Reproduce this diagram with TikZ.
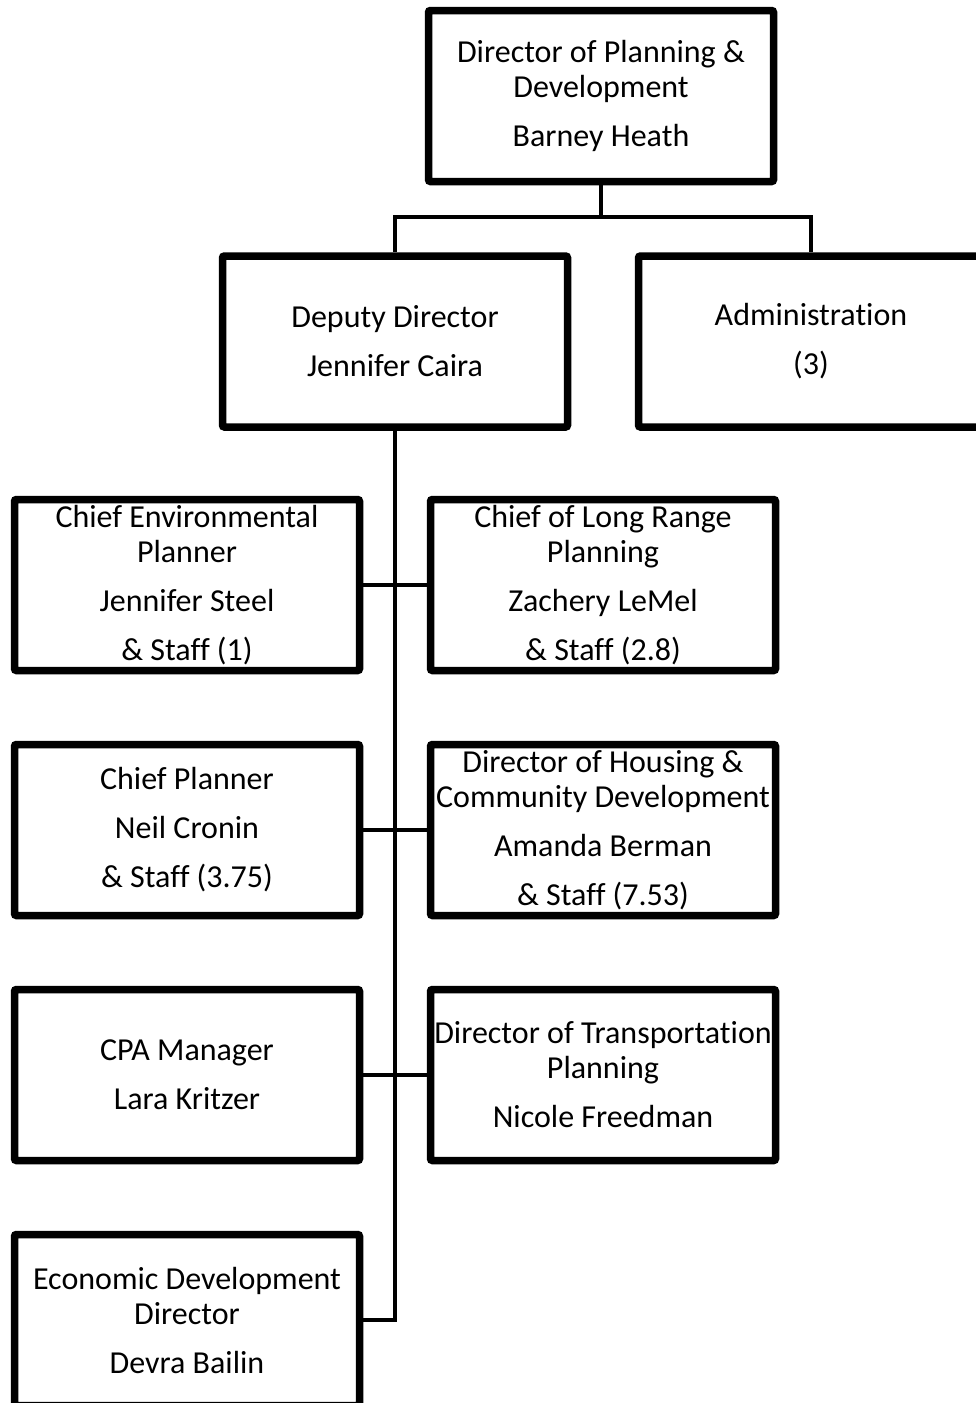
\documentclass[tikz,border=0pt]{standalone}
\usepackage{fontspec}
\setmainfont{Carlito}[Ligatures=NoCommon]
\usetikzlibrary{shadows,backgrounds}
\definecolor{OrgInk}{gray}{0}
\definecolor{OrgPaper}{gray}{1}
\definecolor{OrgShade}{gray}{0.45}
\tikzset{
    org/chart/.style={
        x=1pt, y=-1pt,
        font=\fontsize{32}{35}\selectfont,
        text=OrgInk,
        line join=miter
    },
    org/box/.style={
        draw=OrgInk, fill=OrgPaper, line width=7.5pt,
        minimum width=345pt, minimum height=171pt,
        rounded corners=2pt, align=center, inner sep=0pt,
        drop shadow={shadow xshift=2.5pt, shadow yshift=-3pt,
                     fill=OrgShade, opacity=0.45}
    },
    org/link/.style={draw=OrgInk, line width=4pt}
}
\newcommand{\gap}{\\[14pt]}
\begin{document}
\begin{tikzpicture}[org/chart]
    \useasboundingbox (0,0) rectangle (976,1403);
    % connectors first, boxes sit on top of them
    \coordinate (bus) at (0,217);
    \node[org/box] (director) at (601,96)
        {Director of Planning \&\\Development\gap Barney Heath};
    \node[org/box] (deputy) at (395,341.5)
        {Deputy Director\gap Jennifer Caira};
    \node[org/box] (admin) at (811,341.5)
        {Administration\gap (3)};
    \node[org/box] (envplan) at (187,585)
        {Chief Environmental\\Planner\gap Jennifer Steel\gap \& Staff (1)};
    \node[org/box] (longrange) at (603,585)
        {Chief of Long Range\\Planning\gap Zachery LeMel\gap \& Staff (2.8)};
    \node[org/box] (chiefplan) at (187,830)
        {Chief Planner\gap Neil Cronin\gap \& Staff (3.75)};
    \node[org/box] (housing) at (603,830)
        {Director of Housing \&\\Community Development\gap Amanda Berman\gap \& Staff (7.53)};
    \node[org/box] (cpa) at (187,1075)
        {CPA Manager\gap Lara Kritzer};
    \node[org/box] (transport) at (603,1075)
        {Director of Transportation\\Planning\gap Nicole Freedman};
    \node[org/box] (econ) at (187,1320)
        {Economic Development\\Director\gap Devra Bailin};
    \begin{pgfonlayer}{background}
        \draw[org/link] (director.south) -- (director.south |- bus) -| (deputy.north);
        \draw[org/link] (director.south |- bus) -| (admin.north);
        \draw[org/link] (deputy.south) |- (econ.east);
        \draw[org/link] (envplan.east) -- (longrange.west);
        \draw[org/link] (chiefplan.east) -- (housing.west);
        \draw[org/link] (cpa.east) -- (transport.west);
    \end{pgfonlayer}
\end{tikzpicture}
\end{document}
